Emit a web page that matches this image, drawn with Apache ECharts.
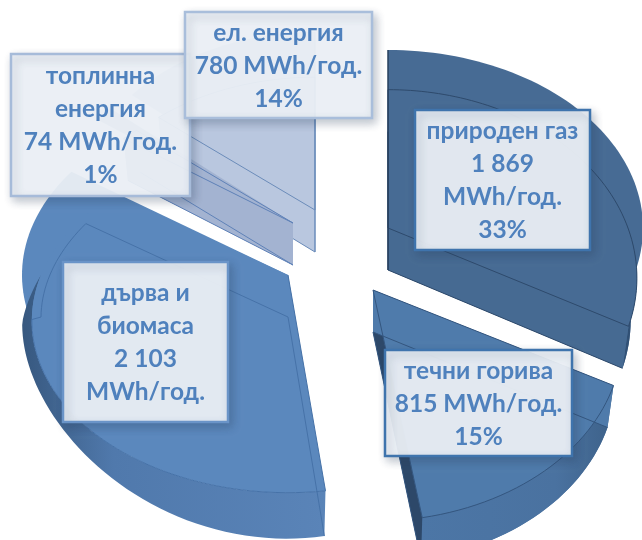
<!DOCTYPE html>
<html><head><meta charset="utf-8">
<style>html,body{margin:0;padding:0;background:#fff}#c{width:642px;height:540px}</style>
<script src="https://cdn.jsdelivr.net/npm/echarts@6/dist/echarts.min.js"></script>
</head><body><div id="c"></div>
<script>
const categories = ['природен газ','течни горива','дърва и биомаса','топлинна енергия','ел. енергия'];
const values = [1869, 815, 2103, 74, 780];
const labelLines = [
  'природен газ\n1 869\nMWh/год.\n33%',
  'течни горива\n815 MWh/год.\n15%',
  'дърва и\nбиомаса\n2 103\nMWh/год.',
  'топлинна\nенергия\n74 MWh/год.\n1%',
  'ел. енергия\n780 MWh/год.\n14%'
];
// drawing layout, per slice
const apex = [[388,228],[373,290],[288,275],[293,223],[315,210]];
const radiusX = [240,240,247,240,240];
const radiusY = [175,170,160,168,168];
const rimX = [255,240,266,240,240];
const startNudge = [0,0,0.04,0,0];
const rank = [1,2,3,5,4];
const surface = ['#476b94','#4f7bab','#5b88bd','#a3b3d1','#b9c7df'];
const wallStops = [
  [[0,'#466a92'],[0.82,'#466a92'],[1,'#2c4a6e']],
  [[0,'#4c76a6'],[0.7,'#4a72a0'],[1,'#3d6189']],
  [[0,'#37587f'],[0.3,'#5079ac'],[1,'#5a84b8']],
  [[0,'#98a6c8'],[1,'#98a6c8']],
  [[0,'#bcc4d6'],[1,'#bcc4d6']]
];
const side = ['#466a92','#2d4869','#5b88bd','#93a3c6','#b3bfd6'];
const thin = ['#2e4a6c','#34567f','#4672a8','#5f82b8','#6b8cba'];
const boxes = [[415,110,175,140],[385,350,187,106],[63,262,165,160],[11,54,179,142],[185,12,187,106]];
const boxBorder = ['#3f74ad','#3f74ad','#6a94c8','#a6bbd9','#a9bedb'];

const total = values.reduce((a,b)=>a+b,0);
const DEPTH = 42, K = 0.265, RIMY = 178, NARROW = 0.975, LEFT = 3*Math.PI/2;

function persp(p, ax, ay, ang){
  const u = Math.sin(ang), t = Math.cos(ang), w = 1 + K*t;
  return [p[0] + ax*u/w, p[1] - ay*t/w];
}
function frontLeftLower(p, ax, ay, ang){
  const u = Math.sin(ang), t = Math.cos(ang);
  const q = persp(p, ax, ay, ang);
  return [q[0] - 10*Math.abs(u)*Math.min(1,Math.abs(t)*4), q[1] + DEPTH*Math.pow(Math.abs(t),3) + 4*Math.min(1,Math.abs(t)*4)];
}
function rim(p, ax, ang){
  return [p[0] + ax*Math.sin(ang), p[1] - RIMY*Math.cos(ang)];
}
function arc(fn, a0, a1){
  const out = [], n = Math.max(2, Math.ceil((a1-a0)/0.03));
  for(let i=0;i<=n;i++) out.push(fn(a0 + (a1-a0)*i/n));
  return out;
}
function poly(points, style, z2){ return {type:'polygon', shape:{points}, style, z2, silent:true}; }
function line(points, color, z2, width){
  return {type:'polyline', shape:{points}, style:{stroke:color, fill:null, lineWidth:width||1}, z2, silent:true};
}

function renderSlice(params, api){
  const i = params.dataIndex;
  let before = 0;
  for(let j=0;j<i;j++) before += values[j];
  const a0 = before/total*2*Math.PI + startNudge[i];
  const a1 = (before + api.value(0))/total*2*Math.PI;
  const p = apex[i], pl = [p[0], p[1]+DEPTH], ax = radiusX[i], ay = radiusY[i], z = rank[i]*10;
  const isFrontLeft = i === 2;
  const stops = wallStops[i].map(s=>({offset:s[0],color:s[1]}));
  const grad = new echarts.graphic.LinearGradient(0,0,1,0,stops);
  const upper = arc(a=>persp(p,ax,ay,a), a0, a1);
  const rimArc = arc(a=>rim(p,rimX[i],a), a0, a1);
  const childs = [poly([p,...rimArc], {fill:surface[i]}, z)];

  if(isFrontLeft){
    const upFront = arc(a=>persp(p,ax,ay,a), a0, LEFT);
    const lowFront = arc(a=>frontLeftLower(p,ax,ay,a), a0, LEFT);
    childs.push(poly([...upFront,...lowFront.slice().reverse()], {fill:grad}, z+2));
    childs.push(poly([p,...upper], {fill:surface[i]}, z+4));
    childs.push(line([pl,lowFront[0]], thin[i], z+5));
    // seam along the front rim, then along the lower back rim to the apex
    const front = arc(a=>persp(p,ax,ay,a), a0, 4.45);
    const back = arc(a=>{
      const s = 1 + 0.16*(a-LEFT)/(a1-LEFT);
      const q = persp(p,ax*s,ay*s,a);
      return [q[0], q[1]+DEPTH];
    }, LEFT, a1);
    childs.push(line([...front,...back,pl], thin[i], z+5));
    childs.push(line([p, upper[0]], thin[i], z+5));
  } else {
    const lower = arc(a=>{const q=persp(p,ax*NARROW,ay,a);return [q[0],q[1]+DEPTH];}, a0, a1);
    childs.push(poly([pl,...lower], {fill:wallStops[i][1][1]}, z+1));
    childs.push(poly([...upper,...lower.slice().reverse()], {fill:grad}, z+2));
    childs.push(poly([p,upper[upper.length-1],lower[lower.length-1],pl], {fill:side[i]}, z+3));
    childs.push(poly([p,upper[0],lower[0],pl], {fill:surface[i]}, z+3));
    childs.push(poly([p,...upper], {fill:surface[i]}, z+4));
    childs.push(line([pl,lower[0]], thin[i], z+5));
    childs.push(line([p,...upper,p], thin[i], z+5));
    childs.push(line([pl,lower[lower.length-1]], thin[i], z+5));
  }
  if(i===0 || i===4){
    childs.push(line([[p[0],p[1]-RIMY],pl], i===0?'#263f5e':thin[i], z+5, i===0?1.5:1));
  }
  return {type:'group', children:childs};
}

function renderLabel(params){
  const i = params.dataIndex, b = boxes[i];
  return {type:'group', children:[
    {type:'rect', shape:{x:b[0],y:b[1],width:b[2],height:b[3]}, z2:100, silent:true,
     style:{fill:'rgba(238,242,248,0.93)', stroke:boxBorder[i], lineWidth:2.5,
            shadowBlur:9, shadowOffsetX:3, shadowOffsetY:4, shadowColor:'rgba(40,60,90,0.3)'}},
    {type:'text', z2:101, silent:true,
     style:{x:b[0]+b[2]/2, y:b[1]+b[3]/2+1, text:labelLines[i], align:'center', verticalAlign:'middle',
            font:'bold 24.5px Lato, "Open Sans", "Noto Sans", sans-serif', lineHeight:33, fill:'#4f81bd'}}
  ]};
}

const chart = echarts.init(document.getElementById('c'), null, {renderer:'canvas'});
chart.setOption({
  animation:false,
  backgroundColor:'#fff',
  series:[
    {type:'custom', coordinateSystem:'none', z:2, renderItem:renderSlice, data:values, silent:true},
    {type:'custom', coordinateSystem:'none', z:5, renderItem:renderLabel, data:categories.map((c,i)=>({name:c,value:values[i]})), silent:true}
  ]
});
</script></body></html>
